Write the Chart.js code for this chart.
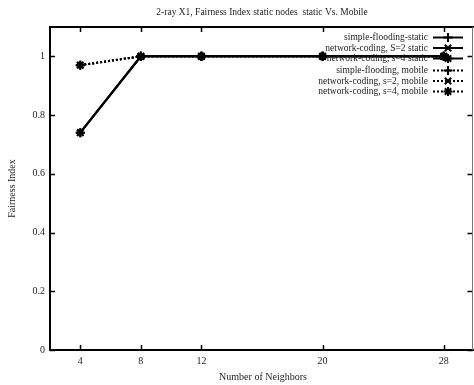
<!DOCTYPE html>
<html>
<head>
<meta charset="utf-8">
<script src="https://cdn.jsdelivr.net/npm/chart.js@4.4.1/dist/chart.umd.min.js"></script>
<style>
  html, body { margin: 0; padding: 0; background: #fff; }
  #wrap { width: 474px; height: 385px; position: relative; }
</style>
</head>
<body>
<div id="wrap"><canvas id="c" width="474" height="385"></canvas></div>
<script>
// Number of neighbours on the x axis
const neighbors = [4, 8, 12, 20, 28];
// Fairness index per series
const simpleFloodingStatic = [0.74, 1, 1, 1, 1];
const codingS2Static       = [0.74, 1, 1, 1, 1];
const codingS4Static       = [0.74, 1, 1, 1, 1];
const simpleFloodingMobile = [0.97, 1, 1, 1, 1];
const codingS2Mobile       = [0.97, 1, 1, 1, 1];
const codingS4Mobile       = [0.97, 1, 1, 1, 1];
// Tick labels
const xTicks = [4, 8, 12, 20, 28];
const yTicks = [0, 0.2, 0.4, 0.6, 0.8, 1];

const SERIF = '"Liberation Serif", "Times New Roman", serif';

function pts(values) {
  return neighbors.map((x, i) => ({ x: x, y: values[i] }));
}

function series(label, values, marker, dotted) {
  return {
    label: label,
    data: pts(values),
    borderColor: '#000',
    backgroundColor: '#000',
    borderWidth: 2,
    borderDash: dotted ? [2, 2] : [],
    pointStyle: marker,
    pointRadius: 4.5,
    pointBorderWidth: 2,
    pointBorderColor: '#000',
    pointBackgroundColor: '#000',
    tension: 0,
    fill: false
  };
}

const datasets = [
  series('simple-flooding-static', simpleFloodingStatic, 'cross', false),
  series('network-coding, S=2 static', codingS2Static, 'crossRot', false),
  series('network-coding, s=4 static', codingS4Static, 'star', false),
  series('simple-flooding, mobile', simpleFloodingMobile, 'cross', true),
  series('network-coding, s=2, mobile', codingS2Mobile, 'crossRot', true),
  series('network-coding, s=4, mobile', codingS4Mobile, 'star', true)
];

// Frame, inward tick marks, titles and the key, drawn in gnuplot style
const framePlugin = {
  id: 'frame',
  afterDraw(chart) {
    const ctx = chart.ctx;
    const a = chart.chartArea;
    const xs = chart.scales.x, ys = chart.scales.y;
    ctx.save();
    // tick marks
    ctx.strokeStyle = '#000';
    ctx.lineWidth = 1.5;
    xTicks.forEach(v => {
      const px = Math.round(xs.getPixelForValue(v)) + 0.5;
      ctx.beginPath();
      ctx.moveTo(px, a.bottom); ctx.lineTo(px, a.bottom - 5);
      ctx.moveTo(px, a.top); ctx.lineTo(px, a.top + 5);
      ctx.stroke();
    });
    yTicks.forEach(v => {
      const py = Math.round(ys.getPixelForValue(v)) + 0.5;
      ctx.beginPath();
      ctx.moveTo(a.left, py); ctx.lineTo(a.left + 5, py);
      ctx.moveTo(a.right - 1.5, py); ctx.lineTo(a.right - 6.5, py);
      ctx.stroke();
    });
    // border
    ctx.lineWidth = 2;
    ctx.beginPath();
    ctx.moveTo(a.right, a.top);
    ctx.lineTo(a.left, a.top);
    ctx.lineTo(a.left, a.bottom);
    ctx.lineTo(a.right, a.bottom);
    ctx.stroke();
    ctx.strokeStyle = '#777';
    ctx.lineWidth = 1;
    ctx.beginPath();
    ctx.moveTo(a.right - 1.5, a.top);
    ctx.lineTo(a.right - 1.5, a.bottom);
    ctx.stroke();

    // titles
    ctx.fillStyle = '#222';
    ctx.font = '9.5px ' + SERIF;
    ctx.textAlign = 'center';
    ctx.textBaseline = 'middle';
    ctx.fillText('2-ray X1, Fairness Index static nodes  static Vs. Mobile', 262, 12);
    ctx.font = '10px ' + SERIF;
    ctx.fillText('Number of Neighbors', 263, 377);
    ctx.save();
    ctx.translate(12, (a.top + a.bottom) / 2);
    ctx.rotate(-Math.PI / 2);
    ctx.fillText('Fairness Index', 0, 0);
    ctx.restore();

    // key
    ctx.font = '9.5px ' + SERIF;
    const textRight = 428, lineL = 433, lineR = 463, mark = 448;
    const rowY = [37.5, 48, 58.5, 70.5, 81, 91.5];
    chart.data.datasets.forEach((ds, i) => {
      const y = rowY[i];
      ctx.fillStyle = '#222';
      ctx.textAlign = 'right';
      ctx.fillText(ds.label, textRight, y);
      ctx.strokeStyle = '#000';
      ctx.lineWidth = 2;
      ctx.setLineDash(ds.borderDash);
      ctx.beginPath();
      ctx.moveTo(lineL, y); ctx.lineTo(lineR, y);
      ctx.stroke();
      ctx.setLineDash([]);
      ctx.fillStyle = '#000';
      Chart.helpers.drawPoint(ctx, {
        pointStyle: ds.pointStyle, radius: 4.5, borderWidth: 2, rotation: 0
      }, mark, y);
    });
    ctx.restore();
  }
};

new Chart(document.getElementById('c'), {
  type: 'line',
  data: { datasets: datasets },
  options: {
    responsive: false,
    animation: false,
    layout: { autoPadding: false, padding: { left: 0, right: 0, top: 27, bottom: 0 } },
    plugins: { legend: { display: false }, tooltip: { enabled: false }, title: { display: false } },
    scales: {
      x: {
        type: 'linear',
        min: 2, max: 30,
        afterBuildTicks(scale) { scale.ticks = xTicks.map(v => ({ value: v })); },
        afterFit(scale) { scale.height = 35; scale.paddingLeft = 0; scale.paddingRight = 0; },
        grid: { display: false, drawTicks: false },
        border: { display: false },
        ticks: {
          color: '#222', padding: 5,
          font: { family: SERIF, size: 10 },
          maxRotation: 0, autoSkip: false
        }
      },
      y: {
        type: 'linear',
        min: 0, max: 1.1,
        afterBuildTicks(scale) { scale.ticks = yTicks.map(v => ({ value: v })); },
        afterFit(scale) { scale.width = 50; scale.paddingTop = 0; scale.paddingBottom = 0; },
        grid: { display: false, drawTicks: false },
        border: { display: false },
        ticks: {
          color: '#222', padding: 5,
          font: { family: SERIF, size: 10 },
          callback: v => String(v)
        }
      }
    }
  },
  plugins: [framePlugin]
});
</script>
</body>
</html>
